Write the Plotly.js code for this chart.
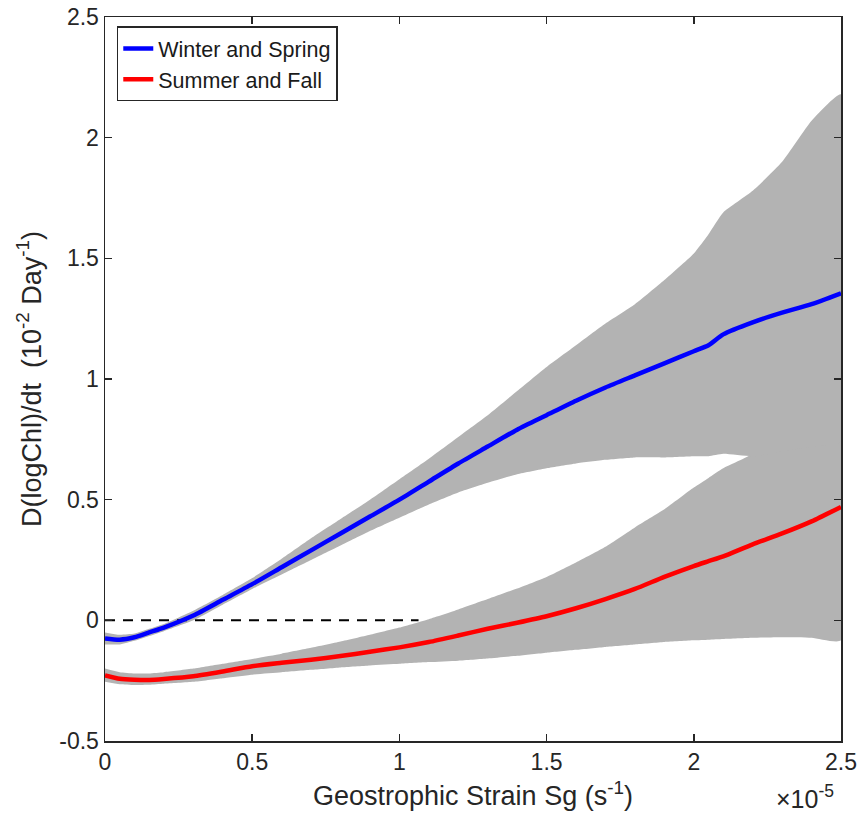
<!DOCTYPE html>
<html>
<head>
<meta charset="utf-8">
<script src="https://cdn.plot.ly/plotly-3.0.1.min.js"></script>
<style>html,body{margin:0;padding:0;background:#fff;}</style>
</head>
<body>
<div id="chart" style="width:858px;height:823px;"></div>
<script>
// Geostrophic strain (units of 1e-5 s^-1)
const strain = [0, 0.05, 0.1, 0.15, 0.2, 0.3, 0.4, 0.5, 0.6, 0.7, 0.8, 0.9, 1.0, 1.1, 1.2, 1.3, 1.4, 1.5, 1.6, 1.7, 1.8, 1.9, 2.0, 2.05, 2.1, 2.2, 2.3, 2.4, 2.5];

// Winter and Spring
const winterMean  = [-0.075, -0.08, -0.07, -0.05, -0.03, 0.02, 0.085, 0.15, 0.22, 0.29, 0.36, 0.43, 0.50, 0.575, 0.65, 0.72, 0.79, 0.85, 0.91, 0.965, 1.015, 1.065, 1.115, 1.14, 1.185, 1.235, 1.275, 1.31, 1.355];
const winterUpper = [-0.05, -0.06, -0.055, -0.035, -0.015, 0.04, 0.105, 0.175, 0.255, 0.34, 0.42, 0.50, 0.585, 0.67, 0.76, 0.85, 0.95, 1.05, 1.14, 1.23, 1.31, 1.41, 1.52, 1.60, 1.69, 1.78, 1.90, 2.07, 2.18];
const winterLower = [-0.10, -0.10, -0.085, -0.065, -0.045, 0.0, 0.065, 0.13, 0.19, 0.25, 0.31, 0.37, 0.425, 0.48, 0.53, 0.57, 0.605, 0.63, 0.65, 0.665, 0.675, 0.675, 0.68, 0.68, 0.69, 0.68, 0.70, 0.72, 0.74];

// Summer and Fall
const summerMean  = [-0.228, -0.242, -0.246, -0.247, -0.243, -0.232, -0.212, -0.19, -0.176, -0.163, -0.148, -0.13, -0.112, -0.09, -0.063, -0.035, -0.01, 0.017, 0.05, 0.088, 0.13, 0.18, 0.225, 0.245, 0.265, 0.315, 0.36, 0.41, 0.47];
const summerUpper = [-0.20, -0.215, -0.22, -0.22, -0.215, -0.20, -0.18, -0.16, -0.138, -0.114, -0.088, -0.06, -0.03, 0.005, 0.045, 0.088, 0.132, 0.18, 0.24, 0.305, 0.385, 0.46, 0.55, 0.59, 0.63, 0.69, 0.80, 0.90, 1.0];
const summerLower = [-0.255, -0.265, -0.268, -0.267, -0.263, -0.255, -0.24, -0.225, -0.215, -0.205, -0.195, -0.187, -0.18, -0.173, -0.167, -0.158, -0.147, -0.134, -0.122, -0.11, -0.10, -0.09, -0.083, -0.08, -0.077, -0.072, -0.07, -0.072, -0.083];

// Zero reference line
const zeroLineX = [0, 1.065];
const zeroLineY = [0, 0];

// Ticks
const xTickVals = [0, 0.5, 1, 1.5, 2, 2.5];
const xTickText = ["0", "0.5", "1", "1.5", "2", "2.5"];
const yTickVals = [-0.5, 0, 0.5, 1, 1.5, 2, 2.5];
const yTickText = ["-0.5", "0", "0.5", "1", "1.5", "2", "2.5"];

const bandColor = "#b3b3b3";
const axisColor = "#262626";
const fontFam = "Liberation Sans, Arial, Helvetica, sans-serif";

function band(x, lo, hi) {
  return {
    x: x.concat(x.slice().reverse()),
    y: hi.concat(lo.slice().reverse()),
    type: "scatter", mode: "lines", fill: "toself",
    fillcolor: bandColor, line: {width: 0, color: bandColor, shape: "spline", smoothing: 0.5},
    hoverinfo: "skip", showlegend: false
  };
}

const traces = [
  band(strain, summerLower, summerUpper),
  band(strain, winterLower, winterUpper),
  {x: zeroLineX, y: zeroLineY, type: "scatter", mode: "lines",
   line: {color: "#000000", width: 2, dash: "10px,8px"}, showlegend: false},
  {x: strain, y: winterMean, type: "scatter", mode: "lines", name: "Winter and Spring",
   line: {color: "#0000ff", width: 4.5, shape: "spline", smoothing: 0.6}},
  {x: strain, y: summerMean, type: "scatter", mode: "lines", name: "Summer and Fall",
   line: {color: "#ff0000", width: 4.5, shape: "spline", smoothing: 0.6}}
];

const layout = {
  width: 858, height: 823,
  margin: {l: 105, r: 17, t: 17, b: 82},
  paper_bgcolor: "#ffffff", plot_bgcolor: "#ffffff",
  font: {family: fontFam, color: axisColor, size: 23},
  showlegend: true,
  legend: {
    x: 0.016, y: 0.987, xanchor: "left", yanchor: "top",
    bgcolor: "#ffffff", bordercolor: axisColor, borderwidth: 1.5,
    font: {family: fontFam, size: 21.5, color: "#1a1a1a"},
    itemwidth: 30, tracegroupgap: 0
  },
  xaxis: {
    range: [0, 2.5], tickmode: "array", tickvals: xTickVals, ticktext: xTickText,
    ticks: "inside", ticklen: 7, tickwidth: 1.5, tickcolor: axisColor,
    showline: true, linecolor: axisColor, linewidth: 1.5, mirror: "ticks",
    showgrid: false, zeroline: false,
    tickfont: {family: fontFam, size: 23, color: axisColor},
    title: {text: "Geostrophic Strain Sg (s<sup>-1</sup>)", font: {family: fontFam, size: 27, color: axisColor}, standoff: 12}
  },
  yaxis: {
    range: [-0.5, 2.5], tickmode: "array", tickvals: yTickVals, ticktext: yTickText,
    ticks: "inside", ticklen: 7, tickwidth: 1.5, tickcolor: axisColor,
    showline: true, linecolor: axisColor, linewidth: 1.5, mirror: "ticks",
    showgrid: false, zeroline: false,
    tickfont: {family: fontFam, size: 23, color: axisColor},
    title: {text: "D(logChl)/dt\u00a0\u00a0(10<sup>-2</sup> Day<sup>-1</sup>)", font: {family: fontFam, size: 27, color: axisColor}, standoff: 10}
  },
  annotations: [{
    xref: "paper", yref: "paper", x: 0.993, y: -0.078, xanchor: "right", yanchor: "middle",
    text: "\u00d710<sup>-5</sup>", showarrow: false,
    font: {family: fontFam, size: 25, color: axisColor}
  }]
};

Plotly.newPlot("chart", traces, layout, {displayModeBar: false, staticPlot: true});
</script>
</body>
</html>
